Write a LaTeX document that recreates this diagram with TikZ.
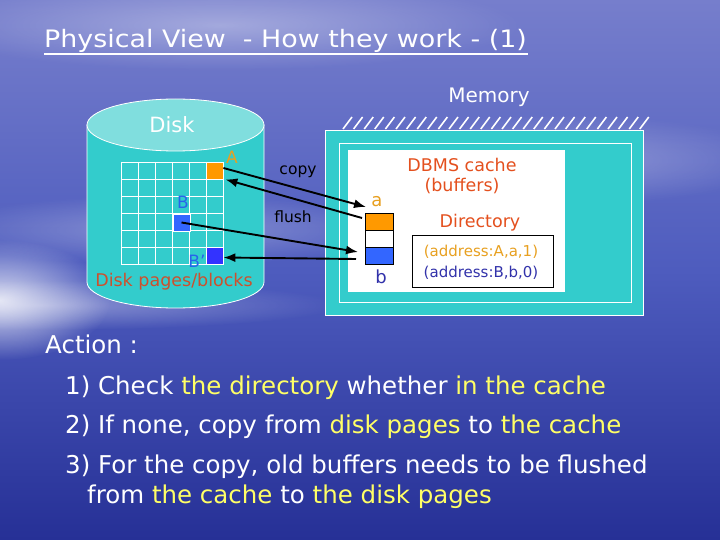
\documentclass[tikz,border=0pt]{standalone}
\usepackage{fontspec}
\setmainfont{DejaVu Sans}
\usetikzlibrary{arrows.meta,fadings}
\definecolor{bgtop}{RGB}{118,126,204}
\definecolor{bgmid}{RGB}{78,92,190}
\definecolor{bgbot}{RGB}{38,48,150}
\definecolor{teal}{RGB}{51,204,204}
\definecolor{tealtop}{RGB}{128,222,222}
\definecolor{orangeA}{RGB}{255,153,0}
\definecolor{goldtxt}{RGB}{232,160,32}
\definecolor{blueB}{RGB}{51,102,255}
\definecolor{blueBp}{RGB}{51,51,255}
\definecolor{bluetxt}{RGB}{40,100,235}
\definecolor{darkblue}{RGB}{50,50,170}
\definecolor{redtxt}{RGB}{228,80,30}
\definecolor{diskred}{RGB}{205,80,45}
\definecolor{yel}{RGB}{255,255,102}
\tikzfading[name=softglow, inner color=transparent!0, outer color=transparent!100]
\tikzset{
  fs/.style={font=\fontsize{#1}{#1}\selectfont},
  cell/.style={minimum width=17pt,minimum height=17pt,inner sep=0pt,draw=white,line width=0.8pt},
  buf/.style={minimum width=28pt,minimum height=17pt,inner sep=0pt,draw=black,line width=0.8pt},
  arr/.style={draw=black,line width=1.9pt,-{Latex[length=12pt,width=9pt]}},
  lbl/.style={inner sep=0pt},
  body/.style={anchor=base west,inner sep=0pt,text=white,fs=24.5},
  glow/.style={fill=white,path fading=softglow},
}
\begin{document}
\begin{tikzpicture}[x=1pt,y=-1pt]
\useasboundingbox (0,0) rectangle (720,540);
% background
\shade[top color=bgtop,bottom color=bgbot,middle color=bgmid] (0,0) rectangle (720,540);
\fill[glow,opacity=0.8] (0,300) ellipse [x radius=110,y radius=60];
\fill[glow,opacity=0.35] (40,305) ellipse [x radius=300,y radius=25];
\fill[glow,opacity=0.35] (220,25) ellipse [x radius=300,y radius=45];
\fill[glow,opacity=0.3] (560,160) ellipse [x radius=220,y radius=45];
\fill[glow,opacity=0.3] (170,230) ellipse [x radius=240,y radius=35];
% title
\node[anchor=base west,inner sep=0pt,text=white] (title) at (44,48)
  {\scalebox{1.12}[1]{\fontsize{24}{28}\selectfont Physical View\ \ - How they work - (1)}};
\draw[white,line width=1.5pt] (title.base west) ++(0,-6pt) coordinate (ul1) -- ++(484,0) coordinate (ul2);
% disk cylinder
\fill[teal,draw=white,line width=0.8pt] (87,125) -- (87,282) arc[start angle=180,end angle=0,x radius=88.5,y radius=26] -- (264,125) -- cycle;
\fill[tealtop,draw=white,line width=0.8pt] (175.5,125) ellipse [x radius=88.5,y radius=26];
\node[lbl,text=white,fs=21] (disk) at (172,125) {Disk};
% grid
\foreach \i in {0,...,6} {
  \draw[white,line width=0.8pt] (121+17*\i,162) -- (121+17*\i,264);
  \draw[white,line width=0.8pt] (121,162+17*\i) -- (223,162+17*\i);
}
\node[cell,fill=orangeA] (A) at (214.5,170.5) {};
\node[cell,fill=blueB] (B) at (181.5,222.5) {};
\node[cell,fill=blueBp] (Bp) at (214.5,255.5) {};
\node[lbl,text=goldtxt,fs=17] (Alab) at (232,157) {A};
\node[lbl,text=bluetxt,fs=17] (Blab) at (183,202) {B};
\node[lbl,text=bluetxt,fs=17] (Bplab) at (197,261) {B’};
\node[lbl,text=diskred,fs=17.5] (pages) at (174,282) {Disk pages/blocks};
% memory
\foreach \k in {0,...,28} {
  \draw[white,line width=1.6pt] (343+10.6*\k,129) -- ++(9,-12);
}
\node[lbl,text=white,fs=20] (mem) at (489,97) {Memory};
\fill[teal,draw=white,line width=0.8pt] (325,130) rectangle (643,315);
\draw[white,line width=0.8pt] (339,143) rectangle (631,302);
\fill[white] (348,150) rectangle (565,292);
\node[lbl,text=redtxt,fs=17.5,align=center] (cache) at (462,176) {DBMS cache\\[2pt](buffers)};
\node[lbl,text=redtxt,fs=17.5] (dir) at (480,223) {Directory};
\node[draw=black,line width=0.8pt,fill=white,minimum width=141pt,minimum height=52pt,inner sep=0pt] (dirbox) at (482.5,261) {};
\node[lbl,text=goldtxt,fs=15] (addrA) at (481,252) {(address:A,a,1)};
\node[lbl,text=darkblue,fs=15] (addrB) at (481,273) {(address:B,b,0)};
% buffers
\node[buf,fill=orangeA] (abuf) at (379,221.5) {};
\node[buf,fill=white] (wbuf) at (379,238.5) {};
\node[buf,fill=blueB] (bbuf) at (379,255.5) {};
\node[lbl,text=goldtxt,fs=18] (alab) at (377,202) {a};
\node[lbl,text=darkblue,fs=18] (blab) at (381,277) {b};
% arrows
\coordinate (copyend) at (366,207);
\coordinate (flushstart) at (362,218);
\coordinate (Bend) at (358,252);
\coordinate (bstart) at (356,259);
\draw[arr] ([yshift=2.5pt]A.east) -- (copyend);
\draw[arr] (flushstart) -- ([xshift=2pt]A.south east);
\draw[arr] (B.center) -- (Bend);
\draw[arr] (bstart) -- ([yshift=-2pt]Bp.east);
\node[lbl,text=black,fs=15.5] (copy) at (298,172) {copy};
\node[lbl,text=black,fs=15.5] (flush) at (293,217) {flush};
% body text
\node[body] (action) at (45,353) {Action :};
\node[body] (l1) at (65,394) {1) Check \textcolor{yel}{the directory} whether \textcolor{yel}{in the cache}};
\node[body] (l2) at (65,433) {2) If none, copy from \textcolor{yel}{disk pages} to \textcolor{yel}{the cache}};
\node[body] (l3) at (65,473) {3) For the copy, old buffers needs to be flushed};
\node[body] (l4) at (87,503) {from \textcolor{yel}{the cache} to \textcolor{yel}{the disk pages}};
\end{tikzpicture}
\end{document}
